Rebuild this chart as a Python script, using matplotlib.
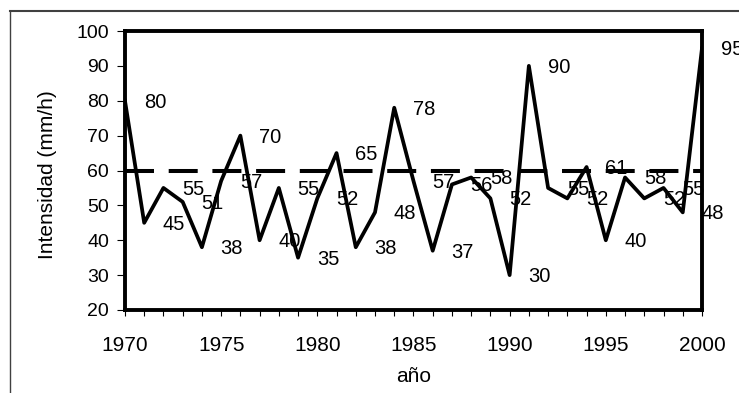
import matplotlib
matplotlib.use("Agg")
import matplotlib.pyplot as plt
from matplotlib.lines import Line2D
from matplotlib.ticker import MultipleLocator

plt.rcParams["font.family"] = ["Liberation Sans", "DejaVu Sans"]

# Intensidad máxima anual de lluvia (mm/h)
anios = list(range(1970, 2001))
intensidad = [80, 45, 55, 51, 38, 57, 70, 40, 55, 35,
              52, 65, 38, 48, 78, 57, 37, 56, 58, 52,
              30, 90, 55, 52, 61, 40, 58, 52, 55, 48,
              95]
umbral = 60

y_ticks = [20, 30, 40, 50, 60, 70, 80, 90, 100]
x_ticks = [1970, 1975, 1980, 1985, 1990, 1995, 2000]

fig = plt.figure(figsize=(7.39, 3.93), dpi=100)
ax = fig.add_axes([0.1691, 0.2112, 0.7808, 0.7099])

ax.plot(anios, intensidad, color="black", lw=2.7, zorder=3)
ax.plot([anios[0], anios[-1]], [umbral, umbral], color="black", lw=2.9,
        linestyle=(0, (7.2, 3.65)), zorder=2)

for x, v in zip(anios, intensidad):
    ax.annotate(str(v), (x, v), xytext=(13.5, -1), textcoords="offset points",
                ha="left", va="center", fontsize=14.5, annotation_clip=False,
                zorder=4)

ax.set_xlim(anios[0], anios[-1])
ax.set_ylim(20, 100)
ax.set_yticks(y_ticks)
ax.set_xticks(x_ticks)
ax.xaxis.set_minor_locator(MultipleLocator(1))

for side in ax.spines.values():
    side.set_linewidth(2.8)
    side.set_color("black")

ax.tick_params(axis="y", direction="out", length=6, width=0.8, pad=5.5,
               labelsize=14)
ax.tick_params(axis="x", which="both", direction="out", length=4, width=0.8,
               pad=14.5, labelsize=15)

fig.text(48 / 739, 1 - 175 / 393, "Intensidad (mm/h)", rotation=90,
         ha="center", va="center", fontsize=15)
fig.text(414 / 739, 1 - 377 / 393, "año", ha="center", va="center",
         fontsize=15)

# borde del marco del gráfico
fig.add_artist(Line2D([10 / 739, 1], [1 - 11 / 393, 1 - 11 / 393],
                      transform=fig.transFigure, color="#404040", lw=1.5))
fig.add_artist(Line2D([10 / 739, 10 / 739], [0, 1 - 11 / 393],
                      transform=fig.transFigure, color="#404040", lw=1.0))

fig.savefig("out.png", dpi=100)
